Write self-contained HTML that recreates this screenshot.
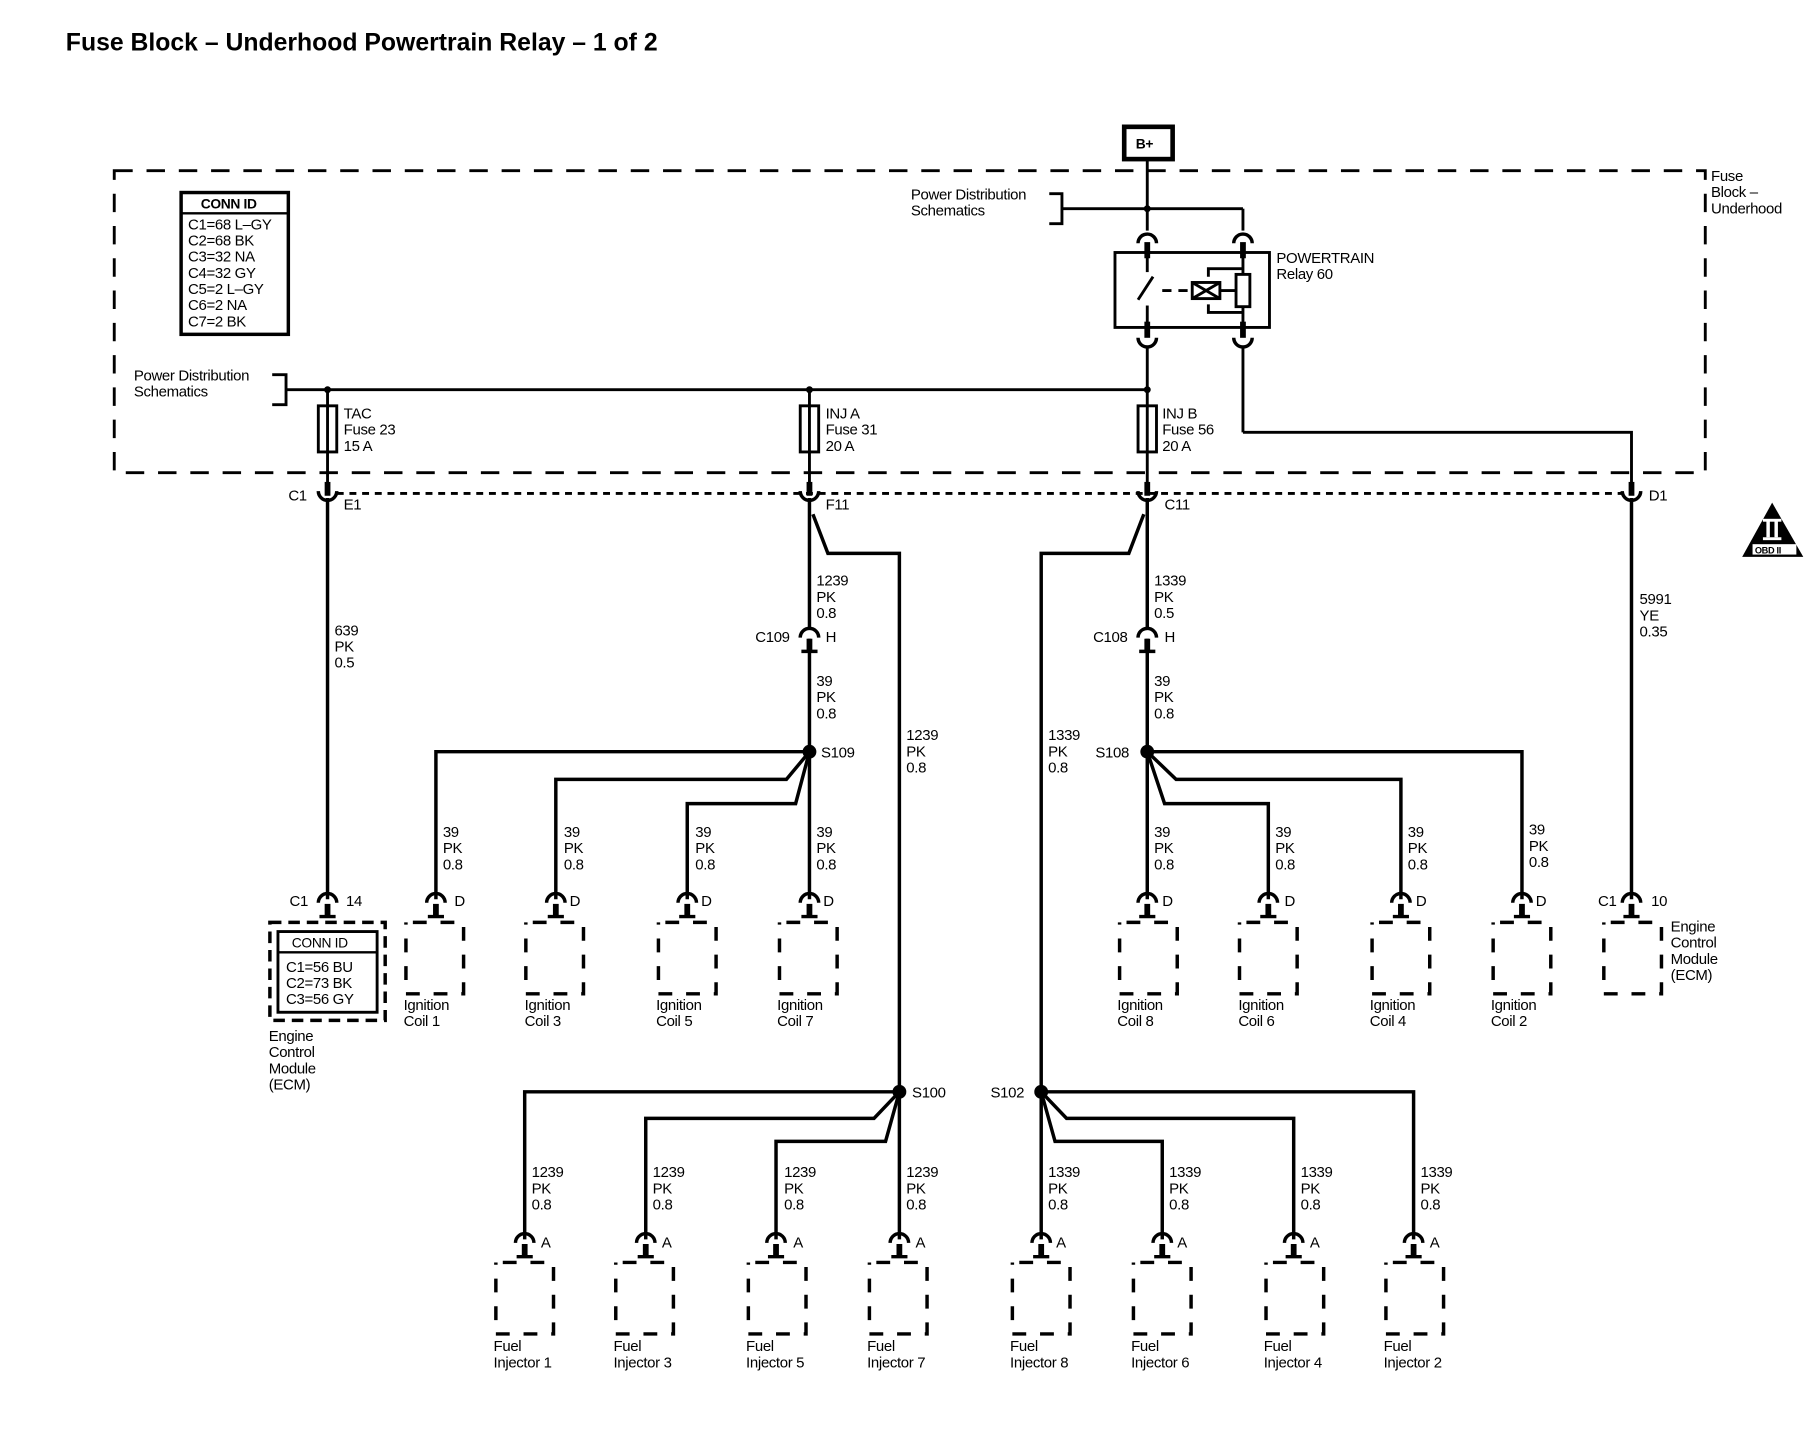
<!DOCTYPE html>
<html><head><meta charset="utf-8"><style>
html,body{margin:0;padding:0;background:#fff;width:1808px;height:1440px;overflow:hidden}
svg{display:block}
text{font-family:"Liberation Sans",sans-serif;font-size:13px;fill:#000;letter-spacing:-0.3px}
</style></head><body>
<svg width="1808" height="1440" viewBox="0 0 1568 1249" xmlns="http://www.w3.org/2000/svg">
<defs>
<g id="cd"><path d="M-8,5 A8,8 0 0 1 8,5" fill="none" stroke="#000" stroke-width="3"/><rect x="-2.5" y="6" width="5" height="11" fill="#000"/><line x1="-7" y1="17" x2="7" y2="17" stroke="#000" stroke-width="3"/></g>
<g id="cu"><path d="M-8,-4 A8,8 0 0 0 8,-4" fill="none" stroke="#000" stroke-width="3"/><rect x="-2.5" y="-12" width="5" height="12" fill="#000"/></g>
<rect id="bx" x="-25" y="0" width="50" height="62" fill="none" stroke="#000" stroke-width="3" stroke-dasharray="12,12" stroke-dashoffset="-6"/>
</defs>
<text x="57" y="44" style="font-size:21.5px;font-weight:bold;letter-spacing:0">Fuse Block – Underhood Powertrain Relay – 1 of 2</text>

<rect x="99" y="148" width="1380" height="262" fill="none" stroke="#000" stroke-width="2.5" stroke-dasharray="16,12"/>
<text x="1484" y="157">Fuse</text><text x="1484" y="171">Block –</text><text x="1484" y="185">Underhood</text>

<rect x="975" y="110" width="42" height="28" fill="#fff" stroke="#000" stroke-width="4"/>
<text x="985" y="129" style="font-weight:bold;font-size:12px">B+</text>

<g stroke="#000" stroke-width="2.5" fill="none">
<line x1="995" y1="138" x2="995" y2="200"/>
<line x1="921" y1="181" x2="1078" y2="181"/>
<line x1="1078" y1="181" x2="1078" y2="200"/>
<path d="M910,168 H921 V194 H910"/>
<path d="M236,325 H248 V351 H236"/>
<line x1="248" y1="338" x2="995" y2="338"/>
<line x1="995" y1="300" x2="995" y2="426"/>
<line x1="284" y1="338" x2="284" y2="426"/>
<line x1="702" y1="338" x2="702" y2="426"/>
<line x1="1078" y1="300" x2="1078" y2="375"/>
<path d="M1078,375 H1415 V426"/>
<rect x="967" y="219" width="134" height="65"/>
<path d="M987,260 L1000,240"/>
<line x1="995" y1="219" x2="995" y2="236"/><line x1="995" y1="265" x2="995" y2="284"/>
<path d="M1008,252 H1030" stroke-dasharray="8,6"/>
<rect x="1034" y="245" width="24" height="14"/>
<path d="M1034,245 L1058,259 M1058,245 L1034,259"/>
<line x1="1058" y1="252" x2="1072" y2="252"/>
<rect x="1072" y="238" width="12" height="28"/>
<line x1="1078" y1="219" x2="1078" y2="238"/><line x1="1078" y1="266" x2="1078" y2="284"/>
<path d="M1048,240 V233 H1078"/>
<path d="M1048,264 V271 H1078"/>
<rect x="276" y="352" width="16" height="40"/>
<rect x="694" y="352" width="16" height="40"/>
<rect x="987" y="352" width="16" height="40"/>
<line x1="292" y1="428" x2="1407" y2="428" stroke-dasharray="6,5"/>
</g>
<g fill="#000">
<circle cx="995" cy="181" r="3"/><circle cx="995" cy="338" r="3"/><circle cx="284" cy="338" r="3"/><circle cx="702" cy="338" r="3"/>
<rect x="992.5" y="210" width="5" height="14"/><rect x="1075.5" y="210" width="5" height="14"/>
<rect x="992.5" y="279" width="5" height="14"/><rect x="1075.5" y="279" width="5" height="14"/>
</g>
<g fill="none" stroke="#000" stroke-width="3">
<path d="M987,211 A8,8 0 0 1 1003,211"/><path d="M1070,211 A8,8 0 0 1 1086,211"/>
<path d="M987,293 A8,8 0 0 0 1003,293"/><path d="M1070,293 A8,8 0 0 0 1086,293"/>
</g>
<text x="790" y="173">Power Distribution</text><text x="790" y="187">Schematics</text>
<text x="116" y="330">Power Distribution</text><text x="116" y="344">Schematics</text>
<text x="1107" y="228">POWERTRAIN</text><text x="1107" y="242">Relay 60</text>
<text x="298" y="363">TAC</text><text x="298" y="377">Fuse 23</text><text x="298" y="391">15 A</text>
<text x="716" y="363">INJ A</text><text x="716" y="377">Fuse 31</text><text x="716" y="391">20 A</text>
<text x="1008" y="363">INJ B</text><text x="1008" y="377">Fuse 56</text><text x="1008" y="391">20 A</text>

<rect x="157" y="167" width="93" height="123" fill="none" stroke="#000" stroke-width="3"/>
<line x1="157" y1="185" x2="250" y2="185" stroke="#000" stroke-width="2"/>
<text x="174" y="181" style="font-weight:bold;font-size:12px">CONN ID</text>
<text x="163" y="199">C1=68 L–GY</text><text x="163" y="213">C2=68 BK</text><text x="163" y="227">C3=32 NA</text><text x="163" y="241">C4=32 GY</text><text x="163" y="255">C5=2 L–GY</text><text x="163" y="269">C6=2 NA</text><text x="163" y="283">C7=2 BK</text>

<use href="#cu" x="284" y="430"/><use href="#cu" x="702" y="430"/><use href="#cu" x="995" y="430"/><use href="#cu" x="1415" y="430"/>
<text x="250" y="434">C1</text><text x="298" y="442">E1</text>
<text x="716" y="442">F11</text><text x="1010" y="442">C11</text><text x="1430" y="434">D1</text>

<path d="M1537,436 L1511,483 L1564,483 Z" fill="#000"/>
<rect x="1520" y="472" width="38" height="9" fill="#fff"/>
<text x="1522" y="480" style="font-size:8px;font-weight:bold">OBD II</text>
<rect x="1532" y="452" width="3" height="14" fill="#fff"/><rect x="1539" y="452" width="3" height="14" fill="#fff"/>
<rect x="1529" y="450" width="16" height="2.5" fill="#fff"/><rect x="1529" y="466" width="16" height="2.5" fill="#fff"/>

<g stroke="#000" stroke-width="3" fill="none">
<line x1="284" y1="432" x2="284" y2="780"/>
<line x1="702" y1="432" x2="702" y2="780"/>
<path d="M705,446 L718,480 H780 V1075"/>
<line x1="995" y1="432" x2="995" y2="780"/>
<path d="M992,446 L979,480 H903 V1075"/>
<line x1="1415" y1="432" x2="1415" y2="780"/>
<path d="M702,652 H378 V780"/>
<path d="M702,652 L682,676 H482 V780"/>
<path d="M702,652 L690,697 H596 V780"/>
<path d="M995,652 H1320 V780"/>
<path d="M995,652 L1020,676 H1215 V780"/>
<path d="M995,652 L1010,697 H1100 V780"/>
<path d="M780,947 H455 V1075"/>
<path d="M780,947 L758,970 H560 V1075"/>
<path d="M780,947 L768,990 H673 V1075"/>
<path d="M903,947 H1226 V1075"/>
<path d="M903,947 L925,970 H1122 V1075"/>
<path d="M903,947 L915,990 H1008 V1075"/>
</g>
<g fill="#000">
<circle cx="702" cy="652" r="6"/><circle cx="995" cy="652" r="6"/><circle cx="780" cy="947" r="6"/><circle cx="903" cy="947" r="6"/>
</g>
<g fill="#fff"><rect x="697" y="546" width="10" height="8"/><rect x="990" y="546" width="10" height="8"/></g>
<use href="#cd" x="702" y="548"/><use href="#cd" x="995" y="548"/>
<text x="655" y="557">C109</text><text x="716" y="557">H</text>
<text x="948" y="557">C108</text><text x="1010" y="557">H</text>
<text x="712" y="657">S109</text><text x="950" y="657">S108</text>
<text x="791" y="952">S100</text><text x="859" y="952">S102</text>

<text x="290" y="551">639</text><text x="290" y="565">PK</text><text x="290" y="579">0.5</text>
<text x="708" y="508">1239</text><text x="708" y="522">PK</text><text x="708" y="536">0.8</text>
<text x="708" y="595">39</text><text x="708" y="609">PK</text><text x="708" y="623">0.8</text>
<text x="1001" y="508">1339</text><text x="1001" y="522">PK</text><text x="1001" y="536">0.5</text>
<text x="1001" y="595">39</text><text x="1001" y="609">PK</text><text x="1001" y="623">0.8</text>
<text x="786" y="642">1239</text><text x="786" y="656">PK</text><text x="786" y="670">0.8</text>
<text x="909" y="642">1339</text><text x="909" y="656">PK</text><text x="909" y="670">0.8</text>
<text x="1422" y="524">5991</text><text x="1422" y="538">YE</text><text x="1422" y="552">0.35</text>

<text x="384" y="726">39</text><text x="384" y="740">PK</text><text x="384" y="754">0.8</text>
<text x="489" y="726">39</text><text x="489" y="740">PK</text><text x="489" y="754">0.8</text>
<text x="603" y="726">39</text><text x="603" y="740">PK</text><text x="603" y="754">0.8</text>
<text x="708" y="726">39</text><text x="708" y="740">PK</text><text x="708" y="754">0.8</text>
<text x="1001" y="726">39</text><text x="1001" y="740">PK</text><text x="1001" y="754">0.8</text>
<text x="1106" y="726">39</text><text x="1106" y="740">PK</text><text x="1106" y="754">0.8</text>
<text x="1221" y="726">39</text><text x="1221" y="740">PK</text><text x="1221" y="754">0.8</text>
<text x="1326" y="724">39</text><text x="1326" y="738">PK</text><text x="1326" y="752">0.8</text>

<use href="#cd" x="284" y="778"/><use href="#cd" x="378" y="778"/><use href="#cd" x="482" y="778"/><use href="#cd" x="596" y="778"/><use href="#cd" x="702" y="778"/>
<use href="#cd" x="995" y="778"/><use href="#cd" x="1100" y="778"/><use href="#cd" x="1215" y="778"/><use href="#cd" x="1320" y="778"/><use href="#cd" x="1415" y="778"/>
<text x="394" y="786">D</text><text x="494" y="786">D</text><text x="608" y="786">D</text><text x="714" y="786">D</text>
<text x="1008" y="786">D</text><text x="1114" y="786">D</text><text x="1228" y="786">D</text><text x="1332" y="786">D</text>
<text x="251" y="786">C1</text><text x="300" y="786">14</text><text x="1386" y="786">C1</text><text x="1432" y="786">10</text>
<use href="#bx" x="377" y="800"/><use href="#bx" x="481" y="800"/><use href="#bx" x="596" y="800"/><use href="#bx" x="701" y="800"/>
<use href="#bx" x="996" y="800"/><use href="#bx" x="1100" y="800"/><use href="#bx" x="1215" y="800"/><use href="#bx" x="1320" y="800"/><use href="#bx" x="1416" y="800"/>
<text x="350" y="876">Ignition</text><text x="350" y="890">Coil 1</text>
<text x="455" y="876">Ignition</text><text x="455" y="890">Coil 3</text>
<text x="569" y="876">Ignition</text><text x="569" y="890">Coil 5</text>
<text x="674" y="876">Ignition</text><text x="674" y="890">Coil 7</text>
<text x="969" y="876">Ignition</text><text x="969" y="890">Coil 8</text>
<text x="1074" y="876">Ignition</text><text x="1074" y="890">Coil 6</text>
<text x="1188" y="876">Ignition</text><text x="1188" y="890">Coil 4</text>
<text x="1293" y="876">Ignition</text><text x="1293" y="890">Coil 2</text>
<text x="1449" y="808">Engine</text><text x="1449" y="822">Control</text><text x="1449" y="836">Module</text><text x="1449" y="850">(ECM)</text>
<rect x="234" y="800" width="100" height="85" fill="none" stroke="#000" stroke-width="3" stroke-dasharray="10,6"/>
<rect x="241" y="808" width="86" height="70" fill="none" stroke="#000" stroke-width="2.5"/>
<line x1="241" y1="826" x2="327" y2="826" stroke="#000" stroke-width="2"/>
<text x="253" y="822" style="font-size:12px">CONN ID</text>
<text x="248" y="843">C1=56 BU</text><text x="248" y="857">C2=73 BK</text><text x="248" y="871">C3=56 GY</text>
<text x="233" y="903">Engine</text><text x="233" y="917">Control</text><text x="233" y="931">Module</text><text x="233" y="945">(ECM)</text>
<text x="461" y="1021">1239</text><text x="461" y="1035">PK</text><text x="461" y="1049">0.8</text>
<text x="566" y="1021">1239</text><text x="566" y="1035">PK</text><text x="566" y="1049">0.8</text>
<text x="680" y="1021">1239</text><text x="680" y="1035">PK</text><text x="680" y="1049">0.8</text>
<text x="786" y="1021">1239</text><text x="786" y="1035">PK</text><text x="786" y="1049">0.8</text>
<text x="909" y="1021">1339</text><text x="909" y="1035">PK</text><text x="909" y="1049">0.8</text>
<text x="1014" y="1021">1339</text><text x="1014" y="1035">PK</text><text x="1014" y="1049">0.8</text>
<text x="1128" y="1021">1339</text><text x="1128" y="1035">PK</text><text x="1128" y="1049">0.8</text>
<text x="1232" y="1021">1339</text><text x="1232" y="1035">PK</text><text x="1232" y="1049">0.8</text>
<use href="#cd" x="455" y="1073"/><use href="#cd" x="560" y="1073"/><use href="#cd" x="673" y="1073"/><use href="#cd" x="780" y="1073"/>
<use href="#cd" x="903" y="1073"/><use href="#cd" x="1008" y="1073"/><use href="#cd" x="1122" y="1073"/><use href="#cd" x="1226" y="1073"/>
<text x="469" y="1082">A</text><text x="574" y="1082">A</text><text x="688" y="1082">A</text><text x="794" y="1082">A</text>
<text x="916" y="1082">A</text><text x="1021" y="1082">A</text><text x="1136" y="1082">A</text><text x="1240" y="1082">A</text>
<use href="#bx" x="455" y="1095"/><use href="#bx" x="559" y="1095"/><use href="#bx" x="674" y="1095"/><use href="#bx" x="779" y="1095"/>
<use href="#bx" x="903" y="1095"/><use href="#bx" x="1008" y="1095"/><use href="#bx" x="1123" y="1095"/><use href="#bx" x="1227" y="1095"/>
<text x="428" y="1172">Fuel</text><text x="428" y="1186">Injector 1</text>
<text x="532" y="1172">Fuel</text><text x="532" y="1186">Injector 3</text>
<text x="647" y="1172">Fuel</text><text x="647" y="1186">Injector 5</text>
<text x="752" y="1172">Fuel</text><text x="752" y="1186">Injector 7</text>
<text x="876" y="1172">Fuel</text><text x="876" y="1186">Injector 8</text>
<text x="981" y="1172">Fuel</text><text x="981" y="1186">Injector 6</text>
<text x="1096" y="1172">Fuel</text><text x="1096" y="1186">Injector 4</text>
<text x="1200" y="1172">Fuel</text><text x="1200" y="1186">Injector 2</text>
</svg>
</body></html>
